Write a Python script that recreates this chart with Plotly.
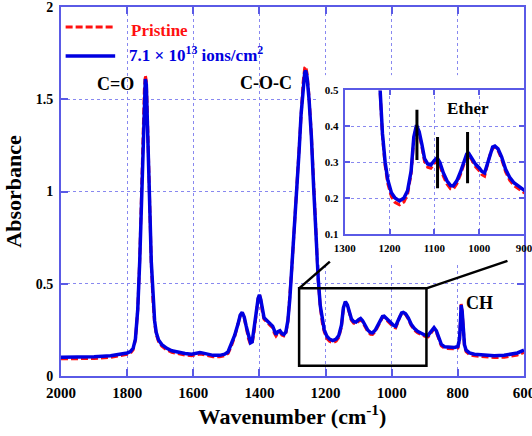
import plotly.graph_objects as go

# FTIR spectra (wavenumber in cm-1, absorbance)
wavenumber = [2000, 1950, 1900, 1850, 1820, 1800, 1790, 1782, 1775, 1768, 1762, 1757, 1752, 1748, 1745,
              1742, 1739, 1735, 1731, 1727, 1722, 1717, 1712, 1705, 1695, 1680, 1665, 1645, 1625, 1605,
              1590, 1580, 1570, 1555, 1540, 1520, 1505, 1495, 1485, 1475, 1465, 1458, 1452, 1446, 1440,
              1433, 1427, 1422, 1416, 1410, 1404, 1400, 1396, 1391, 1386, 1380, 1373, 1366, 1360, 1355,
              1350, 1344, 1338, 1332, 1326, 1320, 1314, 1308, 1302, 1295, 1288, 1280, 1274, 1268, 1263,
              1260, 1256, 1250, 1243, 1236, 1229, 1222, 1216, 1210, 1204, 1196, 1188, 1178, 1168, 1160,
              1152, 1146, 1140, 1134, 1128, 1122, 1115, 1108, 1100, 1094, 1088, 1080, 1072, 1064, 1058,
              1050, 1042, 1035, 1028, 1023, 1016, 1008, 1000, 994, 988, 982, 976, 970, 965, 958,
              950, 941, 932, 922, 912, 900, 890, 880, 872, 865, 858, 850, 840, 825, 810,
              800, 795, 792, 790, 787, 784, 780, 775, 765, 750, 720, 690, 660, 640, 620, 600]

irradiated = [0.102, 0.103, 0.104, 0.110, 0.118, 0.125, 0.132, 0.150, 0.20, 0.36, 0.62, 0.95, 1.30, 1.52, 1.61,
              1.58, 1.42, 1.15, 0.88, 0.62, 0.42, 0.30, 0.235, 0.195, 0.17, 0.15, 0.137, 0.128, 0.122, 0.118,
              0.122, 0.127, 0.124, 0.116, 0.112, 0.112, 0.118, 0.13, 0.17, 0.22, 0.28, 0.33, 0.345, 0.32, 0.27,
              0.21, 0.18, 0.185, 0.25, 0.34, 0.42, 0.44, 0.415, 0.35, 0.315, 0.305, 0.29, 0.28, 0.27, 0.24,
              0.225, 0.24, 0.245, 0.23, 0.225, 0.24, 0.30, 0.42, 0.58, 0.78, 0.98, 1.22, 1.42, 1.57, 1.645,
              1.655, 1.62, 1.50, 1.30, 1.02, 0.75, 0.52, 0.38, 0.30, 0.25, 0.215, 0.20, 0.192, 0.20, 0.22,
              0.275, 0.37, 0.403, 0.385, 0.35, 0.31, 0.295, 0.292, 0.305, 0.312, 0.30, 0.27, 0.248, 0.235, 0.234,
              0.248, 0.272, 0.30, 0.322, 0.324, 0.31, 0.294, 0.284, 0.274, 0.27, 0.295, 0.325, 0.342, 0.345, 0.337,
              0.315, 0.28, 0.258, 0.242, 0.233, 0.222, 0.22, 0.245, 0.262, 0.245, 0.21, 0.172, 0.158, 0.155, 0.155,
              0.16, 0.20, 0.30, 0.385, 0.35, 0.24, 0.17, 0.14, 0.125, 0.118, 0.113, 0.11, 0.112, 0.118, 0.125, 0.14]

pristine = [0.093, 0.094, 0.095, 0.101, 0.110, 0.117, 0.124, 0.142, 0.195, 0.36, 0.63, 0.97, 1.33, 1.55, 1.63,
            1.60, 1.43, 1.15, 0.87, 0.61, 0.41, 0.29, 0.226, 0.186, 0.161, 0.141, 0.128, 0.119, 0.113, 0.110,
            0.114, 0.119, 0.116, 0.108, 0.104, 0.104, 0.110, 0.122, 0.162, 0.213, 0.274, 0.326, 0.342, 0.315, 0.263,
            0.202, 0.171, 0.177, 0.243, 0.336, 0.42, 0.442, 0.413, 0.345, 0.308, 0.297, 0.282, 0.272, 0.262, 0.232,
            0.217, 0.232, 0.238, 0.222, 0.217, 0.233, 0.295, 0.42, 0.585, 0.79, 0.99, 1.235, 1.44, 1.59, 1.67,
            1.678, 1.64, 1.515, 1.31, 1.025, 0.75, 0.515, 0.372, 0.29, 0.24, 0.204, 0.188, 0.181, 0.189, 0.21,
            0.268, 0.365, 0.40, 0.38, 0.343, 0.302, 0.286, 0.283, 0.297, 0.305, 0.292, 0.261, 0.239, 0.226, 0.225,
            0.24, 0.265, 0.293, 0.317, 0.32, 0.304, 0.287, 0.276, 0.265, 0.261, 0.288, 0.32, 0.338, 0.342, 0.333,
            0.309, 0.273, 0.25, 0.234, 0.225, 0.215, 0.212, 0.237, 0.255, 0.237, 0.202, 0.164, 0.15, 0.147, 0.147,
            0.152, 0.195, 0.30, 0.39, 0.352, 0.236, 0.163, 0.132, 0.116, 0.109, 0.103, 0.10, 0.102, 0.107, 0.114, 0.128]

# ether band markers in the inset: (wavenumber, bottom, top)
ether_marks = [(1139, 0.306, 0.446), (1093, 0.227, 0.37), (1026, 0.241, 0.384)]

legend_names = ["Pristine", "7.1 × 10<sup>13</sup> ions/cm<sup>2</sup>"]

FONT = "Liberation Serif"
AXIS_BLUE = "#5a5ae6"
GRID_BLUE = "#8888f0"

fig = go.Figure()

# main plot (x, y) and inset (x3, y3); x2/y2 is only a white patch behind the inset
for xa, ya in [("x", "y"), ("x3", "y3")]:
    fig.add_trace(go.Scatter(x=wavenumber, y=pristine, mode="lines", xaxis=xa, yaxis=ya,
                             line=dict(color="#ff1010", width=3, dash="7px,3px"), showlegend=False))
    fig.add_trace(go.Scatter(x=wavenumber, y=irradiated, mode="lines", xaxis=xa, yaxis=ya,
                             line=dict(color="#0000e0", width=3.5), showlegend=False))
fig.add_trace(go.Scatter(x=[], y=[], xaxis="x2", yaxis="y2", showlegend=False))

axis_common = dict(showline=True, linecolor=AXIS_BLUE, linewidth=2, mirror="ticks",
                   ticks="inside", tickcolor=AXIS_BLUE, tickwidth=1.5,
                   showgrid=True, gridcolor=GRID_BLUE, griddash="dot", gridwidth=1,
                   zeroline=False, automargin=False, ticklabeloverflow="allow")

fig.update_layout(
    width=532, height=436,
    margin=dict(l=61, r=8, t=7, b=60, autoexpand=False),
    plot_bgcolor="white", paper_bgcolor="white",
    xaxis=dict(range=[2000, 600], dtick=200, ticklen=7, domain=[0, 1],
               tickfont=dict(family=FONT, size=15, color="black", weight="bold"),
               ticklabelstandoff=2,
               title=dict(text="Wavenumber (cm<sup>-1</sup>)", standoff=1,
                          font=dict(family=FONT, size=22, color="black", weight="bold")),
               **axis_common),
    yaxis=dict(range=[0, 2], dtick=0.5, ticklen=7, domain=[0, 1],
               tickfont=dict(family=FONT, size=14, color="black", weight="bold"),
               ticklabelstandoff=3,
               title=dict(text="Absorbance", standoff=8,
                          font=dict(family=FONT, size=22, color="black", weight="bold")),
               **axis_common),
    xaxis2=dict(domain=[0.557, 1.0], range=[0, 1], visible=False, anchor="y2"),
    yaxis2=dict(domain=[0.302, 0.815], range=[0, 1], visible=False, anchor="x2"),
    xaxis3=dict(domain=[0.613, 1.0], range=[1300, 900], dtick=100, ticklen=5, anchor="y3",
                tickfont=dict(family=FONT, size=11, color="black", weight="bold"),
                ticklabelstandoff=3, **axis_common),
    yaxis3=dict(domain=[0.385, 0.774], range=[0.1, 0.5], dtick=0.1, ticklen=5, anchor="x3",
                tickfont=dict(family=FONT, size=11, color="black", weight="bold"),
                ticklabelstandoff=2, **axis_common),
)

# white patch hiding the main grid behind the inset
fig.add_shape(type="rect", xref="x2", yref="y2", x0=0, x1=1, y0=0, y1=1,
              fillcolor="white", line_width=0, layer="below")

# zoom box and connectors
black = dict(color="black", width=2.5)
fig.add_shape(type="rect", xref="x", yref="y", x0=1280, x1=895, y0=0.055, y1=0.475, line=black)
fig.add_shape(type="line", xref="x", yref="y", x0=1280, y0=0.475, x1=1187, y1=0.62, line=black)
fig.add_shape(type="line", xref="x", yref="y", x0=895, y0=0.475, x1=650, y1=0.624, line=black)

for wn, lo, hi in ether_marks:
    fig.add_shape(type="line", xref="x3", yref="y3", x0=wn, x1=wn, y0=lo, y1=hi,
                  line=dict(color="black", width=3))

label_font = dict(family=FONT, size=18, color="black", weight="bold")
fig.add_annotation(x=1834, y=1.58, xref="x", yref="y", text="C=O", showarrow=False, font=label_font)
fig.add_annotation(x=1379, y=1.59, xref="x", yref="y", text="C-O-C", showarrow=False, font=label_font)
fig.add_annotation(x=736, y=0.395, xref="x", yref="y", text="CH", showarrow=False, font=label_font)
fig.add_annotation(x=1026, y=0.449, xref="x3", yref="y3", text="Ether", showarrow=False,
                   font=dict(family=FONT, size=17, color="black", weight="bold"))

# hand-drawn legend in the upper left corner
fig.add_shape(type="line", xref="paper", yref="paper", x0=0.010, x1=0.113, y0=0.946, y1=0.946,
              line=dict(color="#ff1010", width=3, dash="7px,3px"))
fig.add_shape(type="line", xref="paper", yref="paper", x0=0.010, x1=0.117, y0=0.867, y1=0.867,
              line=dict(color="#0000e0", width=3.5))
fig.add_annotation(x=0.146, y=0.936, xref="paper", yref="paper", text=legend_names[0],
                   showarrow=False, xanchor="left", yanchor="middle",
                   font=dict(family=FONT, size=17, color="#ff1010", weight="bold"))
fig.add_annotation(x=0.143, y=0.872, xref="paper", yref="paper", text=legend_names[1],
                   showarrow=False, xanchor="left", yanchor="middle",
                   font=dict(family=FONT, size=17, color="#0000e0", weight="bold"))

# the page body has a default 8px margin; drop it so the figure sits at the window corner
fig.write_html("out.html", config={"displayModeBar": False},
               post_script="document.body.style.margin = '0';")
